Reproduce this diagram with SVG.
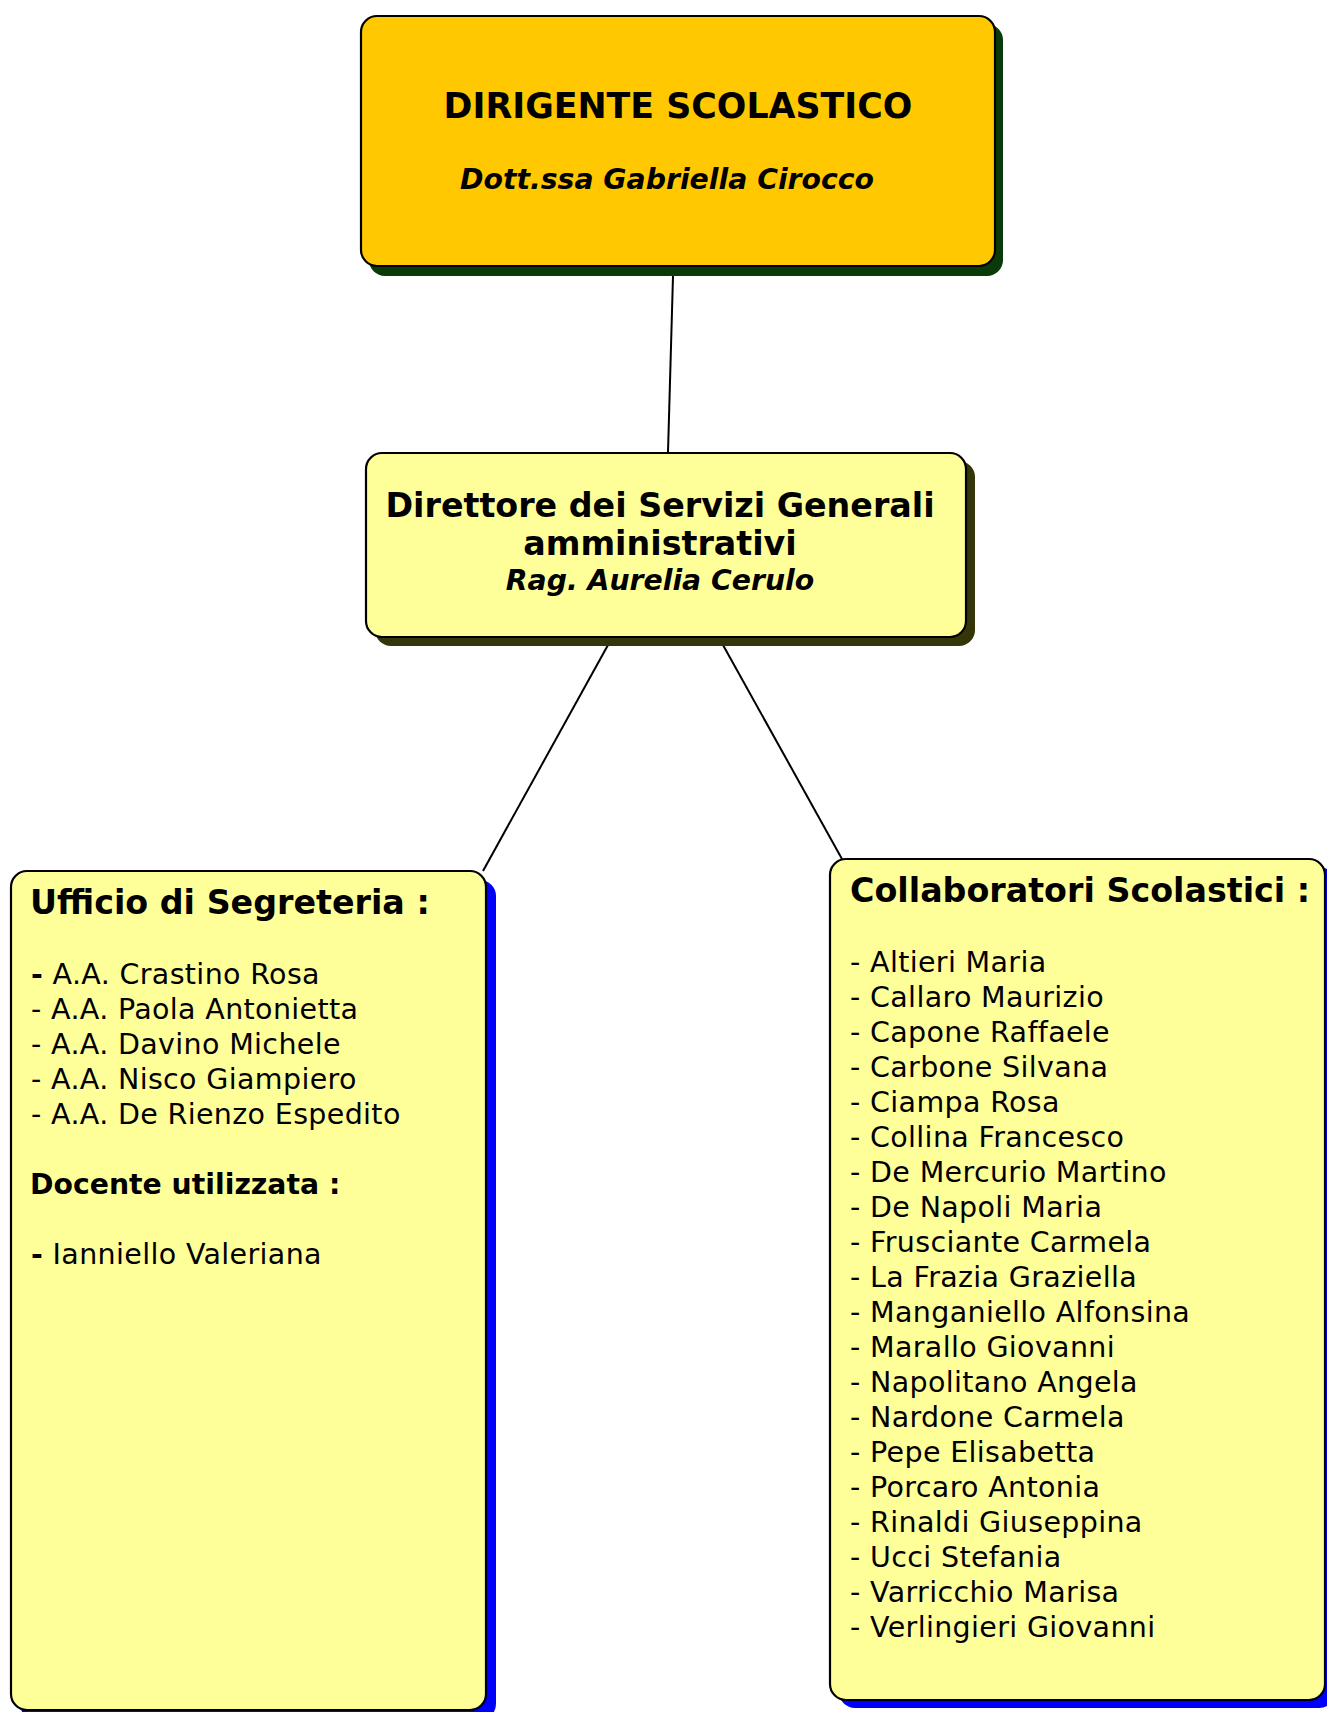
<svg xmlns="http://www.w3.org/2000/svg" width="1327" height="1712" viewBox="0 0 1327 1712">
<style>
.box{stroke:#000;stroke-width:2.2}
.gold{fill:#FFC800}
.pale{fill:#FFFF99}
.t{font-family:"DejaVu Sans",Verdana,sans-serif;fill:#000}
.b{font-weight:bold}
.bi{font-weight:bold;font-style:italic}
.h{font-size:33.3px}
.s{font-size:28.3px}
.r{font-size:28.5px;letter-spacing:0.35px}
.conn{stroke:#000;stroke-width:2;fill:none}
</style>
<rect width="1327" height="1712" fill="#fff"/>
<g id="connectors">
<line class="conn" x1="673" y1="276" x2="668" y2="452"/>
<line class="conn" x1="608" y1="645" x2="483" y2="871"/>
<line class="conn" x1="723" y1="645" x2="842" y2="859"/>
</g>
<g id="dirigente">
<rect x="369" y="24" width="634" height="252" rx="16" fill="#0A3A0A"/>
<rect class="box gold" x="361" y="16" width="634" height="250" rx="16"/>
<text class="t b" x="678" y="118" font-size="34.8" text-anchor="middle">DIRIGENTE SCOLASTICO</text>
<text class="t bi s" x="667" y="189" text-anchor="middle">Dott.ssa Gabriella Cirocco</text>
</g>
<g id="dsga">
<rect x="375" y="461" width="600" height="185" rx="16" fill="#35350A"/>
<rect class="box pale" x="366" y="453" width="600" height="184" rx="16"/>
<text class="t b h" x="660" y="517" text-anchor="middle">Direttore dei Servizi Generali</text>
<text class="t b h" x="660" y="555" text-anchor="middle">amministrativi</text>
<text class="t bi s" x="660" y="590" text-anchor="middle">Rag. Aurelia Cerulo</text>
</g>
<g id="segreteria">
<rect x="20" y="880" width="476" height="840" rx="16" fill="#0000FF"/>
<rect class="box pale" x="11" y="871" width="475" height="839" rx="16"/>
<text class="t b h" x="30" y="914">Ufficio di Segreteria :</text>
<text class="t r" x="31" y="984"><tspan font-weight="bold">-</tspan> A.A. Crastino Rosa</text>
<text class="t r" x="31" y="1019">- A.A. Paola Antonietta</text>
<text class="t r" x="31" y="1054">- A.A. Davino Michele</text>
<text class="t r" x="31" y="1089">- A.A. Nisco Giampiero</text>
<text class="t r" x="31" y="1124">- A.A. De Rienzo Espedito</text>
<text class="t b s" x="30" y="1194" font-size="28.6">Docente utilizzata :</text>
<text class="t r" x="31" y="1264"><tspan font-weight="bold">-</tspan> Ianniello Valeriana</text>
</g>
<g id="collaboratori">
<rect x="839" y="867" width="496" height="841" rx="16" fill="#0000FF"/>
<rect class="box pale" x="830" y="859" width="495" height="841" rx="16"/>
<text class="t b h" x="850" y="902">Collaboratori Scolastici :</text>
<text class="t r" x="850" y="972">- Altieri Maria</text>
<text class="t r" x="850" y="1007">- Callaro Maurizio</text>
<text class="t r" x="850" y="1042">- Capone Raffaele</text>
<text class="t r" x="850" y="1077">- Carbone Silvana</text>
<text class="t r" x="850" y="1112">- Ciampa Rosa</text>
<text class="t r" x="850" y="1147">- Collina Francesco</text>
<text class="t r" x="850" y="1182">- De Mercurio Martino</text>
<text class="t r" x="850" y="1217">- De Napoli Maria</text>
<text class="t r" x="850" y="1252">- Frusciante Carmela</text>
<text class="t r" x="850" y="1287">- La Frazia Graziella</text>
<text class="t r" x="850" y="1322">- Manganiello Alfonsina</text>
<text class="t r" x="850" y="1357">- Marallo Giovanni</text>
<text class="t r" x="850" y="1392">- Napolitano Angela</text>
<text class="t r" x="850" y="1427">- Nardone Carmela</text>
<text class="t r" x="850" y="1462">- Pepe Elisabetta</text>
<text class="t r" x="850" y="1497">- Porcaro Antonia</text>
<text class="t r" x="850" y="1532">- Rinaldi Giuseppina</text>
<text class="t r" x="850" y="1567">- Ucci Stefania</text>
<text class="t r" x="850" y="1602">- Varricchio Marisa</text>
<text class="t r" x="850" y="1637">- Verlingieri Giovanni</text>
</g>
</svg>
